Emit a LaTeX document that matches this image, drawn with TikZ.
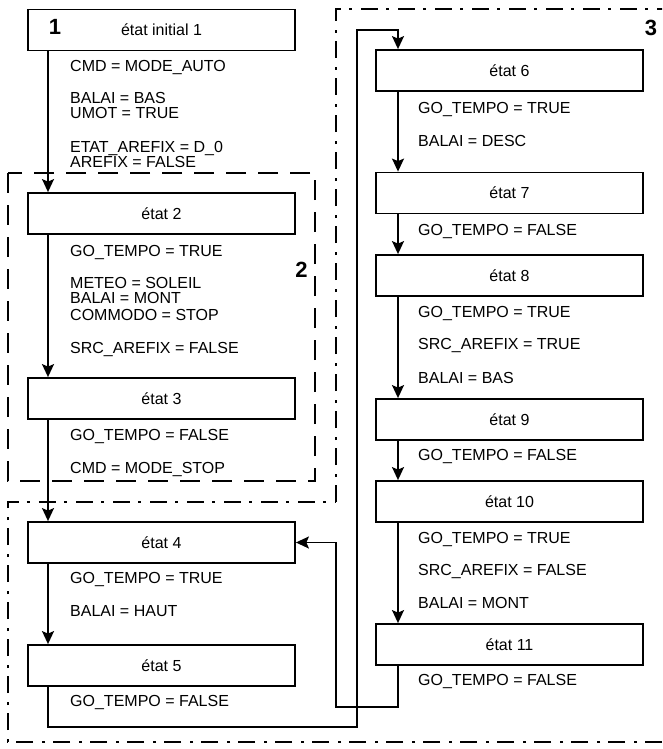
\documentclass[tikz,border=0pt]{standalone}
\usepackage{fontspec}
\setmainfont{Liberation Sans}
\usetikzlibrary{arrows.meta}
\tikzset{
  box/.style={draw, line width=1.8pt, minimum width=267pt, minimum height=41pt, inner sep=0pt, font=\fontsize{16}{19}\selectfont},
  lbl/.style={anchor=base west, inner sep=0pt, font=\fontsize{16}{19}\selectfont},
  num/.style={inner sep=0pt, font=\fontsize{22}{26}\selectfont\bfseries},
  arr/.style={line width=1.7pt, -{Stealth[length=13pt,width=12pt,inset=2.5pt]}},
  reg2/.style={line width=1.6pt, dash pattern=on 20pt off 12pt},
  reg3/.style={line width=1.6pt, dash pattern=on 17pt off 8pt on 3pt off 9pt},
}
\begin{document}
\begin{tikzpicture}[x=1pt,y=-1pt]
\useasboundingbox (0,0) rectangle (662,749);
\clip (0,0) rectangle (662,749);
\fill[white] (0,0) rectangle (662,749);
% regions
\draw[reg2] (8,173) rectangle (315,481);
\draw[reg3] (336,502) -- (336,9) -- (700,9) -- (700,742) -- (8,742) -- (8,502) -- cycle;
\node[num] (n2) at (301.5,269.5) {2};
\node[num] (n3) at (651,28) {3};
% column guides
\coordinate (L) at (48,0);
\coordinate (R) at (398,0);
% boxes left
\node[box] (s1) at (161.5,30) {état initial 1};
\node[num] (n1) at (55,27) {1};
\node[box] (s2) at (161.5,213.5) {état 2};
\node[box] (s3) at (161.5,398.5) {état 3};
\node[box] (s4) at (161.5,542.5) {état 4};
\node[box] (s5) at (161.5,665.5) {état 5};
% boxes right
\node[box] (s6) at (509.5,70.5) {état 6};
\node[box] (s7) at (509.5,193) {état 7};
\node[box] (s8) at (509.5,275.5) {état 8};
\node[box] (s9) at (509.5,419.5) {état 9};
\node[box] (s10) at (509.5,501.5) {état 10};
\node[box] (s11) at (509.5,644.5) {état 11};
% connectors left
\draw[arr] (L |- s1.south) -- (L |- s2.north);
\draw[arr] (L |- s2.south) -- (L |- s3.north);
\draw[arr] (L |- s3.south) -- (L |- s4.north);
\draw[arr] (L |- s4.south) -- (L |- s5.north);
% connectors right
\draw[arr] (R |- s6.south) -- (R |- s7.north);
\draw[arr] (R |- s7.south) -- (R |- s8.north);
\draw[arr] (R |- s8.south) -- (R |- s9.north);
\draw[arr] (R |- s9.south) -- (R |- s10.north);
\draw[arr] (R |- s10.south) -- (R |- s11.north);
% loops
\coordinate (la) at (357,727);
\coordinate (lb) at (357,30);
\draw[arr] (L |- s5.south) |- (la) -- (lb) -| (R |- s6.north);
\coordinate (lc) at (336,707);
\draw[arr] (R |- s11.south) |- (lc) |- (s4.east);
% left texts
\node[lbl] (t1) at (70,71.7) {CMD = MODE\_AUTO};
\node[lbl] (t2) at (70,103.5) {BALAI = BAS};
\node[lbl] (t3) at (70,118.5) {UMOT = TRUE};
\node[lbl] (t4) at (70,152.5) {ETAT\_AREFIX = D\_0};
\node[lbl] (t5) at (70,167.5) {AREFIX = FALSE};
\node[lbl] (t6) at (70,256.2) {GO\_TEMPO = TRUE};
\node[lbl] (t7) at (70,288.2) {METEO = SOLEIL};
\node[lbl] (t8) at (70,303.7) {BALAI = MONT};
\node[lbl] (t9) at (70,320.7) {COMMODO = STOP};
\node[lbl] (t10) at (70,353.2) {SRC\_AREFIX = FALSE};
\node[lbl] (t11) at (70,440.7) {GO\_TEMPO = FALSE};
\node[lbl] (t12) at (70,473.2) {CMD = MODE\_STOP};
\node[lbl] (t13) at (70,583.7) {GO\_TEMPO = TRUE};
\node[lbl] (t14) at (70,616.7) {BALAI = HAUT};
\node[lbl] (t15) at (70,706.7) {GO\_TEMPO = FALSE};
% right texts
\node[lbl] (r1) at (418,113.2) {GO\_TEMPO = TRUE};
\node[lbl] (r2) at (418,146.7) {BALAI = DESC};
\node[lbl] (r3) at (418,235.7) {GO\_TEMPO = FALSE};
\node[lbl] (r4) at (418,317.2) {GO\_TEMPO = TRUE};
\node[lbl] (r5) at (418,349.7) {SRC\_AREFIX = TRUE};
\node[lbl] (r6) at (418,383.2) {BALAI = BAS};
\node[lbl] (r7) at (418,460.7) {GO\_TEMPO = FALSE};
\node[lbl] (r8) at (418,543.2) {GO\_TEMPO = TRUE};
\node[lbl] (r9) at (418,575.7) {SRC\_AREFIX = FALSE};
\node[lbl] (r10) at (418,608.2) {BALAI = MONT};
\node[lbl] (r11) at (418,685.7) {GO\_TEMPO = FALSE};
\end{tikzpicture}
\end{document}
